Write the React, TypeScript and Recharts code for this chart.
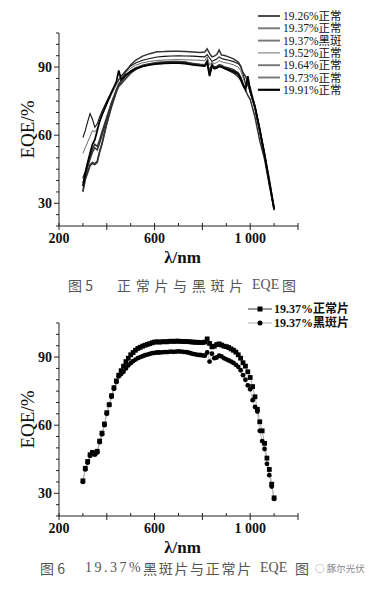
import React from 'react';
import { LineChart, Line, XAxis, YAxis, Legend } from 'recharts';

// wavelength grid (nm) for fig. 5
const W1 = [
  300, 310, 320, 330, 340, 350, 360, 370, 380, 400,
  420, 440, 450, 460, 480, 500, 520, 550, 580, 610,
  640, 670, 700, 730, 760, 790, 810, 820, 830, 840,
  850, 860, 870, 880, 890, 910, 930, 950, 960, 970,
  980, 990, 1000, 1020, 1040, 1060, 1080, 1100,
];

const S1926 = [
  59, 62, 66, 69.5, 67, 63.5, 65, 68, 70.5, 75,
  79, 83, 84.5, 86, 88.5, 90.5, 91.8, 93, 93.8, 94.4,
  94.7, 94.9, 95, 94.9, 94.8, 94.6, 94.5, 95.5, 94, 92.5,
  93, 93.5, 94.5, 93.8, 93.5, 93, 92.4, 91.5, 90.2, 87,
  83, 82, 79, 73, 63, 52, 39.5, 27,
];
const S1937N = [
  35.5, 41, 44, 47, 48, 47.5, 48.5, 53, 56.5, 65.5,
  73, 79.5, 82, 84, 88, 91, 93, 94.8, 95.9, 96.7,
  96.8, 97, 97, 96.8, 96.6, 96.4, 96.6, 98, 96, 94.5,
  94.8, 95.5, 97.5, 95.3, 95.2, 94.5, 93.6, 92.2, 90.5, 87.5,
  86, 83.5, 81, 72.5, 61.5, 52, 40.5, 28,
];
const S1937B = [
  35, 40.5, 43.5, 46.5, 47.5, 47, 48, 52.5, 56, 65,
  72.5, 79, 81.5, 82.5, 85, 87.3, 88.9, 90.4, 91.4, 92,
  92.2, 92.4, 92.5, 92.2, 91.4, 90.9, 90.6, 92, 88, 91.5,
  89.5, 89.8, 90.6, 90.3, 89.5, 88.5, 87.4, 85.7, 84.2, 82,
  80, 77.5, 75.8, 68, 57.5, 49.5, 38, 27.5,
];
const S1952 = [
  52, 54.5, 57, 59.5, 62, 61.5, 63, 66, 68.5, 73.5,
  78, 82, 84, 85.5, 87.8, 89.5, 90.8, 91.9, 92.5, 92.9,
  93.1, 93.2, 93.3, 93.2, 93.1, 93, 92.8, 94.5, 91, 92,
  91.5, 92, 92.8, 92.4, 92, 91.6, 91, 90, 88.5, 85.5,
  82, 83, 79, 72.5, 62.5, 51.5, 39, 27,
];
const S1964 = [
  41, 44, 47.5, 51, 54, 56, 55, 58, 61.5, 68,
  74.5, 80, 82.5, 84, 86.5, 88.3, 89.6, 90.8, 91.5, 91.9,
  92.1, 92.2, 92.2, 92, 91.6, 91.2, 91, 93, 86.5, 91,
  90, 90.3, 91, 90.8, 90.2, 89.6, 88.8, 87.5, 85.5, 82.5,
  80.5, 85, 79.5, 72, 62, 51, 39, 27.5,
];
const S1973 = [
  39, 42.5, 46, 49.5, 52.5, 54.5, 53.5, 56.5, 60, 67,
  74, 79.5, 82, 83.5, 86, 87.8, 89.2, 90.4, 91.1, 91.5,
  91.7, 91.8, 91.8, 91.6, 91.2, 90.8, 90.6, 92.5, 87.5, 90.5,
  89.5, 89.8, 90.5, 90.3, 89.8, 89.2, 88.4, 87.2, 85.5, 82.5,
  80.5, 83, 79, 72, 62, 51, 39, 27,
];
const S1991 = [
  37.5, 43, 48, 52, 56, 58, 62, 66, 69, 74,
  79, 83.5, 88.5, 84.5, 86.5, 88, 89.2, 90.3, 91, 91.4,
  91.6, 91.7, 91.7, 91.5, 91, 90.6, 90.4, 92, 86, 90.5,
  89.3, 89.6, 90.3, 90, 89.5, 88.8, 88, 86.8, 85, 82,
  80, 86, 79.5, 72.5, 62.5, 51.5, 39.5, 27.5,
];

// wavelength grid (nm) for fig. 6
const W2 = [
  300, 310, 320, 330, 340, 350, 360, 370, 380, 390,
  400, 410, 420, 430, 440, 450, 460, 470, 480, 490,
  500, 510, 520, 530, 540, 550, 560, 570, 580, 590,
  600, 610, 620, 630, 640, 650, 660, 670, 680, 690,
  700, 710, 720, 730, 740, 750, 760, 770, 780, 790,
  800, 810, 820, 830, 840, 850, 860, 870, 880, 890,
  900, 910, 920, 930, 940, 950, 960, 970, 980, 990,
  1000, 1010, 1020, 1030, 1040, 1050, 1060, 1070, 1080, 1090,
  1100,
];
const NORMAL_1937 = [
  35.5, 41, 44, 47, 48, 47.5, 48.5, 53, 56.5, 60.5,
  65.5, 69, 73, 76.5, 79.5, 82, 84, 86, 88, 89.5,
  91, 92, 93, 93.8, 94.3, 94.8, 95.2, 95.6, 95.9, 96.3,
  96.6, 96.7, 96.6, 96.7, 96.8, 96.7, 96.9, 97, 96.9, 97,
  97, 96.9, 96.9, 96.8, 96.8, 96.7, 96.6, 96.5, 96.5, 96.4,
  96.4, 96.6, 98, 96, 94.5, 94.8, 95.5, 95.8, 95.3, 94.8,
  94.6, 94.2, 93.6, 93, 92.2, 91, 89.5, 87.5, 86, 83.5,
  81, 77, 72.5, 67, 61.5, 57.5, 52, 45.5, 40.5, 34,
  28,
];
const SPOT_1937 = [
  35, 40.5, 43.5, 46.5, 47.5, 47, 48, 52.5, 56, 60,
  65, 69, 72.5, 76, 79, 81.5, 82.5, 83.5, 85, 86.3,
  87.3, 88.2, 88.9, 89.5, 90, 90.4, 90.8, 91.1, 91.4, 91.7,
  91.8, 92, 92, 92.1, 92.2, 92.2, 92.3, 92.4, 92.3, 92.4,
  92.5, 92.4, 92.3, 92.2, 92, 91.7, 91.4, 91.2, 91, 90.9,
  90.7, 90.6, 92, 88, 91.5, 89.5, 89.8, 90.6, 90.3, 89.5,
  89, 88.5, 88, 87.4, 86.6, 85.7, 84.2, 82, 80, 77.5,
  75.8, 71, 68, 66, 57.5, 53, 49.5, 43, 38, 33,
  27.5,
];

const X_TICKS = [200, 300, 400, 500, 600, 700, 800, 900, 1000, 1100, 1200];
const X_LABELS: Record<number, string> = { 200: '200', 600: '600', 1000: '1 000' };
const Y_TICKS = [20, 25, 30, 35, 40, 45, 50, 55, 60, 65, 70, 75, 80, 85, 90, 95, 100, 105];
const Y_LABELS = [30, 60, 90];

const SERIF = "'Liberation Serif', 'Times New Roman', 'Noto Sans CJK SC', serif";
const CJK = "'Noto Sans CJK SC', 'Liberation Serif', serif";

const SERIES1 = [
  { key: 's1926', name: '19.26%正常', color: '#111', width: 1.1, legend: '#111' },
  { key: 's1937n', name: '19.37%正常', color: '#333', width: 1.5, legend: '#777' },
  { key: 's1937b', name: '19.37%黑斑', color: '#333', width: 1.5, legend: '#777' },
  { key: 's1952', name: '19.52%正常', color: '#444', width: 0.8, legend: '#888' },
  { key: 's1964', name: '19.64%正常', color: '#333', width: 1.5, legend: '#777' },
  { key: 's1973', name: '19.73%正常', color: '#333', width: 1.5, legend: '#777' },
  { key: 's1991', name: '19.91%正常', color: '#000', width: 1.8, legend: '#000' },
];

const table1 = W1.map((w, i) => ({
  w,
  s1926: S1926[i],
  s1937n: S1937N[i],
  s1937b: S1937B[i],
  s1952: S1952[i],
  s1964: S1964[i],
  s1973: S1973[i],
  s1991: S1991[i],
}));

const table2 = W2.map((w, i) => ({ w, normal: NORMAL_1937[i], spot: SPOT_1937[i] }));

const XTick = (props: any) => {
  const { x, y, payload } = props;
  const v = payload.value as number;
  const major = v % 200 === 0;
  return (
    <g>
      <line x1={x} y1={y - 3} x2={x} y2={y + (major ? 4 : 0)} stroke="#222" strokeWidth={1} />
      {X_LABELS[v] && (
        <text x={x} y={y + 17} textAnchor="middle" fontFamily={SERIF} fontWeight="bold" fontSize={14} fill="#111">
          {X_LABELS[v]}
        </text>
      )}
    </g>
  );
};

const YTick = (props: any) => {
  const { x, y, payload } = props;
  const v = payload.value as number;
  const labelled = Y_LABELS.includes(v);
  return (
    <g>
      <line x1={x - (labelled ? 5 : 3)} y1={y} x2={x} y2={y} stroke="#222" strokeWidth={1} />
      {labelled && (
        <text x={x - 7} y={y + 5} textAnchor="end" fontFamily={SERIF} fontWeight="bold" fontSize={14} fill="#111">
          {v}
        </text>
      )}
    </g>
  );
};

const YTitle = (props: any) => {
  const vb = props.viewBox || { x: 19, y: 33, width: 40, height: 193 };
  const cx = vb.x + 8;
  const cy = vb.y + vb.height / 2;
  return (
    <text x={cx} y={cy} transform={`rotate(-90 ${cx} ${cy})`} textAnchor="middle" dominantBaseline="central"
      fontFamily={SERIF} fontSize={19} fill="#111">
      EQE/%
    </text>
  );
};

const XTitle = (props: any) => {
  const vb = props.viewBox || { x: 59, y: 226, width: 239, height: 30 };
  return (
    <text x={vb.x + vb.width / 2 + 4} y={vb.y + 37} textAnchor="middle" fontFamily={SERIF} fontWeight="bold"
      fontSize={17} fill="#111">
      λ/nm
    </text>
  );
};

const Legend1 = () => (
  <svg width={115} height={96}>
    {SERIES1.map((s, i) => {
      const cy = 7 + i * 12.3;
      return (
        <g key={s.key}>
          <line x1={3} y1={cy} x2={25} y2={cy} stroke={s.legend} strokeWidth={s.width + 0.4} />
          <text x={28} y={cy + 4} fontFamily={SERIF} fontSize={11.5} fill="#111">{s.name}</text>
        </g>
      );
    })}
  </svg>
);

const Legend2 = () => (
  <svg width={115} height={34}>
    <line x1={2} y1={9} x2={26} y2={9} stroke="#333" strokeWidth={1} />
    <rect x={11.5} y={6.5} width={5} height={5} fill="#000" />
    <text x={28} y={13} fontFamily={SERIF} fontWeight="bold" fontSize={12} fill="#111">19.37%正常片</text>
    <line x1={2} y1={23} x2={26} y2={23} stroke="#aaa" strokeWidth={1} />
    <circle cx={14} cy={23} r={2.5} fill="#000" />
    <text x={28} y={27} fontFamily={SERIF} fontWeight="bold" fontSize={12} fill="#111">19.37%黑斑片</text>
  </svg>
);

const SquareDot = (p: any) => {
  const { cx, cy, index } = p;
  if (cx == null || cy == null) return <g key={`sq-${index}`} />;
  return <rect key={`sq-${index}`} x={cx - 2.4} y={cy - 2.4} width={4.8} height={4.8} fill="#000" />;
};

const MARGIN = { top: 33, right: 75, bottom: 34, left: 19 };

export default function App() {
  const xAxis = (
    <XAxis
      dataKey="w"
      type="number"
      domain={[200, 1200]}
      ticks={X_TICKS}
      interval={0}
      tick={<XTick />}
      tickSize={0}
      tickMargin={0}
      tickLine={false}
      height={30}
      axisLine={{ stroke: '#222', strokeWidth: 1 }}
      label={<XTitle />}
    />
  );
  const yAxis = (
    <YAxis
      type="number"
      domain={[20, 105]}
      ticks={Y_TICKS}
      interval={0}
      tick={<YTick />}
      tickSize={0}
      tickMargin={0}
      tickLine={false}
      width={40}
      axisLine={{ stroke: '#222', strokeWidth: 1 }}
      label={<YTitle />}
    />
  );

  return (
    <div style={{ position: 'absolute', left: 0, top: 0, width: 373, height: 597, background: '#fff', overflow: 'hidden' }}>
      <div style={{ position: 'absolute', left: 0, top: 0 }}>
        <LineChart width={373} height={290} data={table1} margin={MARGIN}>
          {xAxis}
          {yAxis}
          <Legend
            layout="horizontal"
            verticalAlign="middle"
            align="center"
            content={() => <Legend1 />}
            wrapperStyle={{ left: 255, top: 9, width: 115, height: 96 }}
          />
          {SERIES1.map((s) => (
            <Line
              key={s.key}
              dataKey={s.key}
              name={s.name}
              type="linear"
              stroke={s.color}
              strokeWidth={s.width}
              dot={false}
              activeDot={false}
              isAnimationActive={false}
            />
          ))}
        </LineChart>
      </div>
      <div
        style={{
          position: 'absolute', left: 68, top: 276, fontFamily: CJK, fontSize: 14, color: '#555',
          whiteSpace: 'pre', lineHeight: '18px',
        }}
      >
        <span>图 5</span>
        <span style={{ position: 'absolute', left: 49, letterSpacing: 4.7 }}>正常片与黑斑片</span>
        <span style={{ position: 'absolute', left: 184, fontFamily: SERIF }}>EQE</span>
        <span style={{ position: 'absolute', left: 214 }}>图</span>
      </div>

      <div style={{ position: 'absolute', left: 0, top: 290 }}>
        <LineChart width={373} height={290} data={table2} margin={MARGIN}>
          {xAxis}
          {yAxis}
          <Legend
            layout="horizontal"
            verticalAlign="middle"
            align="center"
            content={() => <Legend2 />}
            wrapperStyle={{ left: 246, top: 10, width: 115, height: 34 }}
          />
          <Line
            dataKey="normal"
            name="19.37%正常片"
            type="linear"
            stroke="#888"
            strokeWidth={0.7}
            dot={SquareDot}
            activeDot={false}
            isAnimationActive={false}
          />
          <Line
            dataKey="spot"
            name="19.37%黑斑片"
            type="linear"
            stroke="#aaa"
            strokeWidth={0.7}
            dot={{ r: 2.4, fill: '#000', stroke: '#000', strokeWidth: 0 }}
            activeDot={false}
            isAnimationActive={false}
          />
        </LineChart>
      </div>
      <div
        style={{
          position: 'absolute', left: 40, top: 559, fontFamily: CJK, fontSize: 14, color: '#555',
          whiteSpace: 'pre', lineHeight: '18px',
        }}
      >
        <span>图 6</span>
        <span style={{ position: 'absolute', left: 45, fontFamily: SERIF, letterSpacing: 2.5 }}>19.37%</span>
        <span style={{ position: 'absolute', left: 103, letterSpacing: 1.7 }}>黑斑片与正常片</span>
        <span style={{ position: 'absolute', left: 220, fontFamily: SERIF }}>EQE</span>
        <span style={{ position: 'absolute', left: 255 }}>图</span>
      </div>
      <div
        style={{
          position: 'absolute', left: 315, top: 562, fontFamily: CJK, fontSize: 9.5, color: '#888',
          lineHeight: '13px', whiteSpace: 'pre',
        }}
      >
        ◌ 豚尔光伏
      </div>
    </div>
  );
}
